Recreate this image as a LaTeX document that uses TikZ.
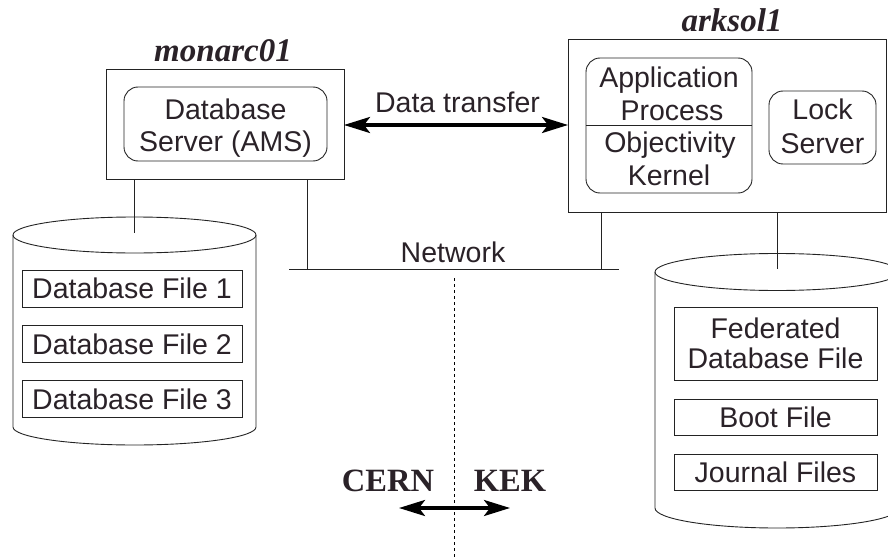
\documentclass[tikz,border=0pt]{standalone}
\usepackage{fontspec}
\setmainfont{Liberation Serif}
\setsansfont{Liberation Sans}
\usetikzlibrary{arrows.meta}
\definecolor{ink}{RGB}{42,34,40}
\definecolor{linec}{RGB}{35,35,35}
\begin{document}
\begin{tikzpicture}[x=1pt,y=-1pt,
  every node/.style={inner sep=0pt, outer sep=0pt},
  sans/.style={font=\sffamily\fontsize{28.5}{32}\selectfont, text=ink},
  hostlabel/.style={font=\rmfamily\bfseries\itshape\fontsize{33}{36}\selectfont, text=ink},
  sitelabel/.style={font=\rmfamily\bfseries\fontsize{32.5}{36}\selectfont, text=ink},
  frame/.style={draw=linec, line width=0.9pt},
  rbox/.style={frame, rounded corners=14pt},
  conn/.style={draw=linec, line width=0.9pt},
  bigarrow/.style={draw=black, line width=3.4pt,
    {Stealth[length=26pt,width=16pt,inset=6pt]}-{Stealth[length=26pt,width=16pt,inset=6pt]}},
  divider/.style={draw=black, line width=0.9pt, dash pattern=on 3pt off 3pt}
]
\useasboundingbox (0,0) rectangle (888,559);
\clip (0,0) rectangle (888,559);

% ---- monarc01 host
\node[hostlabel, anchor=base] (monlbl) at (223,62) {monarc01};
\node[frame, minimum width=238, minimum height=110] (mon) at (225,124) {};
\node[rbox, minimum width=203, minimum height=74] (ams) at (225.5,124) {};
\node[sans, anchor=base] (amsA) at (225.5,119.5) {Database};
\node[sans, anchor=base] (amsB) at (225.5,151) {Server (AMS)};

% ---- arksol1 host
\node[hostlabel, anchor=base] (arklbl) at (732,32) {arksol1};
\node[frame, minimum width=318, minimum height=173] (ark) at (727,125.5) {};
\node[rbox, minimum width=166, minimum height=135] (app) at (669,125.5) {};
\draw[conn] (app.west) -- (app.east);
\node[sans, anchor=base] (appA) at (669,88) {Application};
\node[sans, anchor=base] (appB) at (672,121) {Process};
\node[sans, anchor=base] (appC) at (670,152) {Objectivity};
\node[sans, anchor=base] (appD) at (669,185) {Kernel};
\node[rbox, minimum width=107, minimum height=73] (lock) at (822.5,127.5) {};
\node[sans, anchor=base] (lockA) at (822.5,120) {Lock};
\node[sans, anchor=base] (lockB) at (822.5,153) {Server};

% ---- data transfer
\draw[bigarrow] (mon.east |- 0,125) -- (ark.west |- 0,125);
\node[sans, anchor=base] (dtlbl) at (457.5,113) {Data transfer};

% ---- network
\coordinate (netL) at (289,269);
\coordinate (netR) at (619,269);
\coordinate (tapM) at (307,269);
\coordinate (tapA) at (601,269);
\draw[conn] (netL) -- (netR);
\draw[conn] (tapM |- mon.south) -- (tapM);
\draw[conn] (tapA |- ark.south) -- (tapA);
\node[sans, anchor=base] (netlbl) at (453,262) {Network};

% ---- left cylinder
\draw[conn] (134.5,235) ellipse [x radius=121.5pt, y radius=18pt];
\draw[conn] (13,235) -- (13,427) arc[start angle=180, end angle=360, x radius=121.5pt, y radius=18pt] -- (256,235);
\coordinate (cylLtop) at (134.5,233);
\draw[conn] (cylLtop |- mon.south) -- (cylLtop);
\node[frame, sans, minimum width=220, minimum height=37] (f1) at (132,288.5) {Database File 1};
\node[frame, sans, minimum width=220, minimum height=37] (f2) at (132,344) {Database File 2};
\node[frame, sans, minimum width=220, minimum height=37] (f3) at (132,399) {Database File 3};

% ---- right cylinder
\draw[conn] (777,272) ellipse [x radius=122pt, y radius=18.5pt];
\draw[conn] (655,272) -- (655,508) arc[start angle=180, end angle=360, x radius=122pt, y radius=20pt] -- (899,272);
\coordinate (cylRtop) at (777,269);
\draw[conn] (cylRtop |- ark.south) -- (cylRtop);
\node[frame, minimum width=203, minimum height=73] (fed) at (775.5,343.5) {};
\node[sans, anchor=base] (fedA) at (775.5,338) {Federated};
\node[sans, anchor=base] (fedB) at (775.5,368) {Database File};
\node[frame, sans, minimum width=203, minimum height=36] (boot) at (775.5,417) {Boot File};
\node[frame, sans, minimum width=203, minimum height=36] (jour) at (775.5,472) {Journal Files};

% ---- CERN / KEK
\coordinate (divtop) at (454,278);
\coordinate (divbot) at (454,559);
\draw[divider] (divtop) -- (divbot);
\node[sitelabel, anchor=base] (cern) at (388,491) {CERN};
\node[sitelabel, anchor=base] (kek) at (510,491) {KEK};
\coordinate (arrL) at (399,508);
\coordinate (arrR) at (510,508);
\draw[bigarrow] (arrL) -- (arrR);
\end{tikzpicture}
\end{document}
